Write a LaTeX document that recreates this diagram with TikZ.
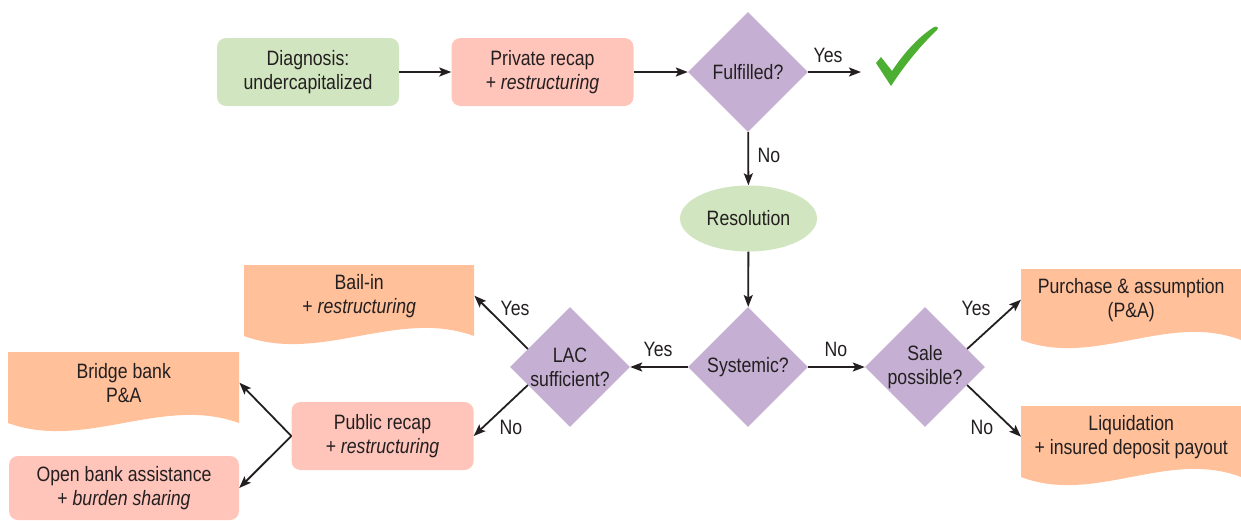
\documentclass[tikz,border=0pt]{standalone}
\usepackage{fontspec}
\setmainfont[FakeStretch=0.85]{Liberation Sans}
\usetikzlibrary{shapes.geometric,arrows.meta,calc}

\definecolor{inkc}{RGB}{35,31,32}
\definecolor{startgreen}{RGB}{209,230,192}
\definecolor{actionpink}{RGB}{255,196,186}
\definecolor{outcomepeach}{RGB}{255,192,154}
\definecolor{questionpurple}{RGB}{197,176,211}
\definecolor{checkgreen}{RGB}{77,175,49}

\tikzset{
  base/.style={text=inkc, align=center, inner sep=0pt},
  roundbox/.style={base, rounded corners=9pt, minimum width=182, minimum height=68},
  greenbox/.style={roundbox, fill=startgreen},
  pinkbox/.style={roundbox, fill=actionpink},
  question/.style={base, diamond, aspect=1, fill=questionpurple, minimum width=120, minimum height=120},
  terminal/.style={base, ellipse, fill=startgreen, minimum width=137, minimum height=66},
  doctext/.style={base, anchor=north west, minimum height=61},
  docfill/.style={fill=outcomepeach},
  flow/.style={draw=inkc, line width=1.8pt, -{Stealth[length=12pt,width=9pt,inset=2.5pt]}},
  answer/.style={text=inkc, inner sep=0pt},
}

% outcome "document": text node plus a filled sheet with a wavy lower edge
% #1 name, #2 left x, #3 top y, #4 width, #5 text
\newcommand\outcomedoc[5]{%
  \fill[docfill] (#2,#3) -- ++(#4,0) -- ++(0,71)
    .. controls +(-#4/3,-28) and +(#4/3,28) .. ++(-#4,0) -- cycle;
  \node[doctext, minimum width=#4] (#1) at (#2,#3) {#5};
}

\begin{document}
\begin{tikzpicture}[x=1pt,y=-1pt, font=\fontsize{20.8}{24}\selectfont]
\useasboundingbox (0,0) rectangle (1241,520);

% top row
\node[greenbox] (diag) at (308,72) {Diagnosis:\\undercapitalized};
\node[pinkbox] (priv) at (542.5,72) {Private recap\\+ \textit{restructuring}};
\node[question] (ful) at (748,72) {Fulfilled?};
\coordinate (ok) at (861,72);

% check mark
\fill[checkgreen] (876,63) -- (881,57) -- (892,71)
  .. controls (906,50) and (920,36) .. (934,27)
  .. controls (937,26) and (939,27) .. (937,30)
  .. controls (920,46) and (904,66) .. (891,86) -- cycle;

% resolution
\node[terminal] (res) at (748.5,218.5) {Resolution};

% decisions in the middle row
\node[question] (sys) at (748,367) {Systemic?};
\node[question] (lac) at (570,367) {LAC\\sufficient?};
\node[question] (sale) at (925,367) {Sale\\possible?};

% outcomes
\outcomedoc{bail}{244}{265}{230}{Bail-in\\+ \textit{restructuring}}
\outcomedoc{bridge}{8}{352}{231}{Bridge bank\\P\&A}
\outcomedoc{pa}{1021}{269}{220}{Purchase \& assumption\\(P\&A)}
\outcomedoc{liq}{1021}{406}{220}{Liquidation\\+ insured deposit payout}

\node[pinkbox] (pub) at (382.5,436) {Public recap\\+ \textit{restructuring}};
\node[pinkbox, minimum width=230, minimum height=64] (open) at (124,488) {Open bank assistance\\+ \textit{burden sharing}};

% connectors
\draw[flow] (diag) -- (priv);
\draw[flow] (priv) -- (ful);
\draw[flow] (ful) -- (ok);
\draw[flow] (ful) -- (res);
\draw[flow] (res) -- (sys);
\draw[flow] (sys) -- (sale);
\draw[flow] (sys) -- (lac);
\draw[flow] ($(sale.north)!0.7!(sale.east)$) -- (pa.west);
\draw[flow] ($(sale.south)!0.7!(sale.east)$) -- (liq.west);
\draw[flow] ($(lac.north)!0.7!(lac.west)$) -- (bail.east);
\draw[flow] ($(lac.south)!0.7!(lac.west)$) -- (pub.east);
\draw[flow] (pub.west) -- (bridge.east);
\draw[flow] (pub.west) -- (open.east);

% answer labels
\node[answer] (a1) at (828,55) {Yes};
\node[answer] (a2) at (769,155) {No};
\node[answer] (a3) at (836,349) {No};
\node[answer] (a4) at (976,308) {Yes};
\node[answer] (a5) at (982,427) {No};
\node[answer] (a6) at (658,349) {Yes};
\node[answer] (a7) at (515,308) {Yes};
\node[answer] (a8) at (511,427) {No};
\end{tikzpicture}
\end{document}
